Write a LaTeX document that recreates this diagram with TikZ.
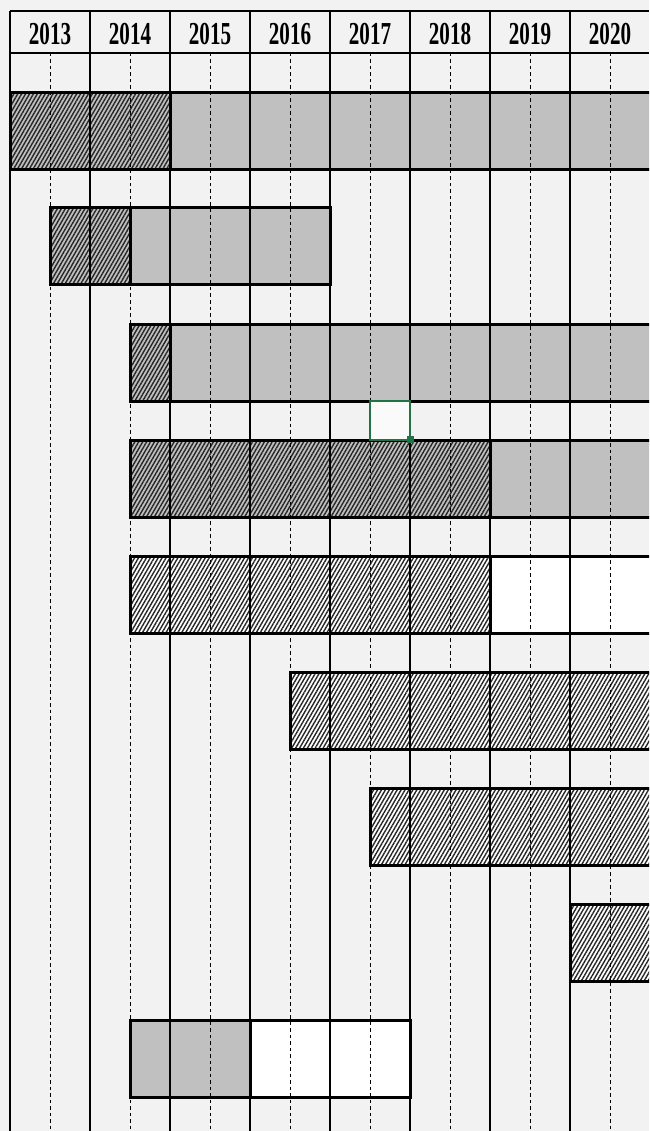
\documentclass[tikz,border=0pt]{standalone}
\usepackage{fontspec}
\setmainfont{Liberation Serif}
\newfontfamily\yearfont{Liberation Serif}[FakeStretch=0.66]
\usetikzlibrary{patterns.meta}
\definecolor{sheet}{HTML}{F2F2F2}
\definecolor{cellgray}{HTML}{C0C0C0}
\definecolor{selgreen}{HTML}{217346}
% segments: x from / x to / row top / style
\newcommand{\barcells}{10/170/93/darkhatch, 170/651/93/solidcell,
  50/130/208/darkhatch, 130/330/208/solidcell,
  130/170/324/darkhatch, 170/651/324/solidcell,
  130/490/440/darkhatch, 490/651/440/solidcell,
  130/490/556/lighthatch, 490/651/556/emptycell,
  290/651/672/lighthatch, 370/651/788/lighthatch, 570/651/904/lighthatch,
  130/250/1020/solidcell, 250/410/1020/emptycell}

\begin{document}
\begin{tikzpicture}[x=1pt, y=-1pt,
  colline/.style={line width=2.5pt},
  midline/.style={line width=1pt, dash pattern=on 3.5pt off 3pt},
  barframe/.style={draw, line width=3pt},
  solidcell/.style={fill=cellgray},
  emptycell/.style={fill=white},
  darkhatch/.style={preaction={fill=cellgray}, pattern={Lines[angle=60,distance=3.4pt,line width=1.4pt]}, pattern color=black!85},
  lighthatch/.style={preaction={fill=white}, pattern={Lines[angle=60,distance=3.4pt,line width=1.4pt]}, pattern color=black!85},
  yearlabel/.style={font=\yearfont\bfseries\fontsize{32}{32}\selectfont, inner sep=0pt}]
  \useasboundingbox (0,0) rectangle (649,1131);
  \clip (0,0) rectangle (649,1131);
  \fill[sheet] (0,0) rectangle (649,1131);

  % year header
  \foreach \yr [count=\i from 0] in {2013,...,2020}
    \node[yearlabel] (y\yr) at (50+80*\i, 34) {\yr};

  % bar cells
  \foreach \xa/\xb/\ya/\sty in \barcells
    \path[\sty] (\xa,\ya) rectangle (\xb,\ya+77);

  \foreach \i in {0,...,7}
    \draw[midline] (50+80*\i, 53) -- (50+80*\i, 1131);
  \foreach \i in {0,...,7}
    \draw[colline] (10+80*\i, 11) -- (10+80*\i, 1131);
  \foreach \yy in {11,53,92}
    \draw[colline] (10,\yy) -- (649,\yy);

  \foreach \xa/\xb/\ya/\sty in \barcells
    \path[barframe] (\xa,\ya) rectangle (\xb,\ya+77);

  % selected cell
  \draw[selgreen, line width=2pt, fill=white!60!sheet] (370,401) rectangle (410,440);
  \fill[selgreen] (407,436) rectangle (414,443);
\end{tikzpicture}
\end{document}
